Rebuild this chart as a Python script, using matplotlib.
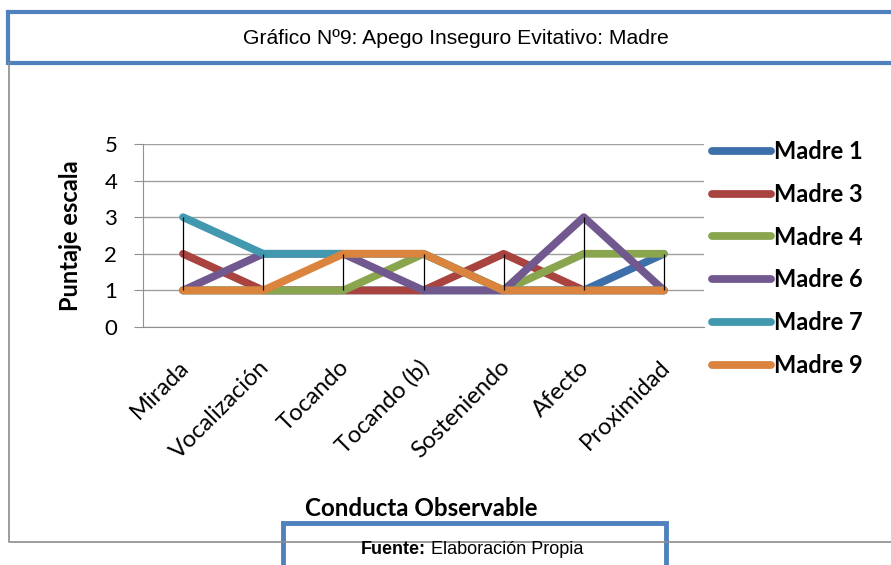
import matplotlib.pyplot as plt
import matplotlib.transforms as mtransforms
from matplotlib.patches import Rectangle
from matplotlib.lines import Line2D

categorias = ['Mirada', 'Vocalización', 'Tocando', 'Tocando (b)', 'Sosteniendo', 'Afecto', 'Proximidad']
madre1 = [1, 1, 1, 1, 1, 1, 2]
madre3 = [2, 1, 1, 1, 2, 1, 1]
madre4 = [1, 1, 1, 2, 1, 2, 2]
madre6 = [1, 2, 2, 1, 1, 3, 1]
madre7 = [3, 2, 2, 2, 1, 1, 1]
madre9 = [1, 1, 2, 2, 1, 1, 1]
nombres = ['Madre 1', 'Madre 3', 'Madre 4', 'Madre 6', 'Madre 7', 'Madre 9']
colores = ['#3D6FAA', '#A84340', '#89A54E', '#71588F', '#4198AF', '#DB843D']

series = [madre1, madre3, madre4, madre6, madre7, madre9]
W, H = 891, 565

fig = plt.figure(figsize=(W / 100, H / 100), dpi=100)
ax = fig.add_axes([143 / W, 1 - 327 / H, (704 - 143) / W, (327 - 144) / H])

x = list(range(len(categorias)))
for vals, nom, col in zip(series, nombres, colores):
    ax.plot(x, vals, color=col, lw=5.6, label=nom, solid_capstyle='round',
            solid_joinstyle='round', zorder=3)

# lineas de maximo-minimo
mins = [min(v) for v in zip(*series)]
maxs = [max(v) for v in zip(*series)]
ax.vlines(x, mins, maxs, color='black', lw=0.9, zorder=4)

ax.set_xlim(-0.5, 6.5)
ax.set_ylim(0, 5)
ax.set_yticks(range(6))
ax.yaxis.grid(True, color='#A0A0A0', lw=1)
ax.set_axisbelow(True)
for s in ['top', 'right']:
    ax.spines[s].set_visible(False)
ax.spines['left'].set_color('#909090')
ax.spines['bottom'].set_color('#909090')
ax.tick_params(axis='y', length=6.5, color='#909090', labelsize=16, pad=12)
ax.tick_params(axis='x', length=0, labelsize=17, pad=21)
ax.set_xticks(x)
ax.set_xticklabels(categorias, rotation=45, ha='right', rotation_mode='anchor', family='Lato')
desplaza = mtransforms.ScaledTranslation(-5 / 100, 0, fig.dpi_scale_trans)
for t in ax.get_xticklabels():
    t.set_transform(t.get_transform() + desplaza)
for t in ax.get_yticklabels():
    t.set_family('Lato')
ax.set_ylabel('Puntaje escala', family='Lato', fontweight='bold', fontsize=17, labelpad=16)
fig.text(421 / W, 1 - 508 / H, 'Conducta Observable', family='Lato', fontweight='bold',
         fontsize=17.4, ha='center', va='center')

ax.legend(loc='upper left', bbox_to_anchor=(712 / W, 1 - 140 / H), bbox_transform=fig.transFigure,
          frameon=False, prop={'family': 'Lato', 'weight': 'bold', 'size': 17},
          handlelength=2.5, handletextpad=0.12, labelspacing=0.84, borderaxespad=0, borderpad=0)

# marcos
fig.add_artist(Line2D([9 / W, 9 / W, 1], [1 - 63 / H, 1 - 542 / H, 1 - 542 / H],
                      transform=fig.transFigure, color='#8C8C8C', lw=1.2))
fig.add_artist(Rectangle((8 / W, 1 - 63 / H), 0.995, 51 / H, transform=fig.transFigure,
                         facecolor='white', edgecolor='#4F81BD', lw=3))
fig.text(456 / W, 1 - 38 / H, 'Gráfico Nº9: Apego Inseguro Evitativo: Madre',
         family='Liberation Sans', fontsize=15.2, ha='center', va='center')
fig.add_artist(Rectangle((283 / W, -0.05), (666 - 283) / W, 1 - 523 / H + 0.05,
                         transform=fig.transFigure, facecolor='white', edgecolor='#4F81BD', lw=3.5))
fig.text(426 / W, 1 - 549 / H, 'Fuente:', family='Liberation Sans', fontweight='bold',
         fontsize=13, ha='right', va='center')
fig.text(431 / W, 1 - 549 / H, 'Elaboración Propia', family='Liberation Sans',
         fontsize=13, ha='left', va='center')

fig.savefig('out.png', dpi=100, facecolor='white')
